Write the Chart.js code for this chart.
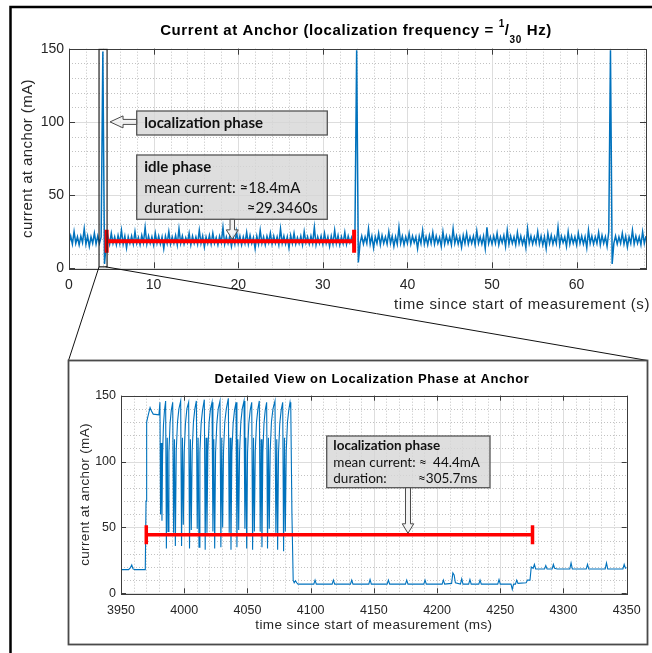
<!DOCTYPE html>
<html>
<head>
<meta charset="utf-8">
<script src="https://cdn.jsdelivr.net/npm/chart.js@4.4.0/dist/chart.umd.min.js"></script>
<style>
  html, body { margin: 0; padding: 0; background: #fff; }
  #wrap { position: relative; width: 652px; height: 653px; overflow: hidden; }
  canvas { position: absolute; left: 0; top: 0; }
</style>
</head>
<body>
<div id="wrap">
  <canvas id="overview" width="652" height="653"></canvas>
  <canvas id="detail" width="652" height="653"></canvas>
</div>
<script>
// ---- overview: current over the whole measurement (one sample every 0.2 s)
const overviewStepS = 0.2;
const overviewCurrentMA = [
  17,22,16.5,25,17,21.5,16,22,17.5,27,16.5,22,15,21.5,17,24,16.5,22,17,21.5,148,3,17,22,16.5,
  24,17,21.5,16,22.5,17,26,16.5,22,14,21.5,17,22,16.5,25,17,21,16,22.5,17.5,28,16.5,22,17,21.5,
  16,24,17,22,16.5,21.5,13.5,22,17,25,16.5,21.5,17,22.5,16,27,17,22,16.5,21,17.5,24,16,22,17,
  21.5,16.5,26,17,22,14.5,21.5,17,22.5,16.5,24,17,21,16,22,17.5,28,16.5,21.5,17,22,15,21.5,16.5,25,
  17,22,16,21.5,17,24.5,16.5,22.5,17,21,13.5,22,16.5,26,17,21.5,16,22,17.5,24,16.5,22,17,21.5,16,
  27,17,22,16.5,21.5,14,22.5,17,24,16.5,21,17,22,16,25,17.5,21.5,16.5,22,17,28,16,21.5,17,22,
  16.5,24,17,21.5,15,22,16.5,26,17,22.5,16,21.5,17,24.5,16.5,22,17.5,21,16,25,149,4,17,22,16.5,
  21.5,17,27,16.5,22,14,21.5,17,24,16,22.5,17,21.5,16.5,25,17,22,15,21.5,16.5,28,17,22,16,21.5,
  17,24,16.5,22,17.5,21.5,13.5,22,17,26,16.5,21.5,16,22.5,17,24.5,16.5,22,17,21,15,25,16.5,22,17,
  21.5,16,27,17,22,16.5,21.5,14.5,22.5,17,24,16.5,21.5,17,22,16,25.5,17,21.5,16.5,22,13.5,28,17,21.5,
  16.5,22,17,24,16,21.5,17.5,22.5,15,26,16.5,22,17,21.5,16,24.5,17,22,16.5,21,14,27,17,22,16.5,
  21.5,17,25,16.5,22,16,21.5,13.5,24,17,22.5,16.5,21.5,17,28,16,22,17.5,21.5,15,25,16.5,22,17,21.5,
  16,24,17,22,16.5,21.5,14,26,17,22,16.5,21.5,17,24.5,16,22.5,17,21.5,15,25,149,3,17,22,16.5,
  21.5,17,24,16.5,22,14.5,21.5,17,26,16.5,22,17,21.5,16,25,17,22
];
const overviewXTicks = [0, 10, 20, 30, 40, 50, 60];
const overviewYTicks = [0, 50, 100, 150];
const idleStartS = 4.45, idleEndS = 33.7, idleMeanMA = 18.4;
const zoomWindowS = [3.55, 4.5];
const zoomWindowMA = [1, 149.5];

// ---- detail: the localization phase, [time ms, current mA]
const detailBefore = [
  [3950,18],[3956,18],[3957.5,19.5],[3958.5,21.5],[3959.5,18.5],[3961,18],[3969.2,18],
  [3969.8,70],[3970.3,130],[3971.2,134],[3972.2,138],[3973,141],[3974,138.5],[3975.5,136],[3980,135.5]
];
const detailBurst = [
  [3980.8,145],[3981.3,60],[3981.8,114],[3982.4,55],[3982.9,106],[3983.6,128],[3984.4,139],
  [3985.3,146],[3985.9,34],[3986.6,118],[3987.2,47],[3987.9,107],[3988.8,129],[3989.8,139],
  [3990.9,145],[3991.6,46],[3992.3,117],[3993.0,36],[3993.7,108],[3994.7,130],[3995.8,140],
  [3997.2,146],[3997.9,36],[3998.6,118],[3999.3,52],[4000.0,107],[4001.0,129],[4002.1,140],
  [4003.5,145],[4004.2,34],[4004.9,117],[4005.6,48],[4006.3,108],[4007.3,130],[4008.4,140],
  [4009.6,146],[4010.3,49],[4011.0,118],[4011.7,35],[4012.4,107],[4013.4,129],[4014.5,139],
  [4015.9,147],[4016.6,33],[4017.3,118],[4018.0,46],[4018.7,108],[4019.7,130],[4020.8,140],
  [4022.0,145],[4022.7,47],[4023.4,117],[4024.1,34],[4024.8,107],[4025.8,129],[4026.9,140],
  [4028.3,146],[4029.0,35],[4029.7,118],[4030.4,50],[4031.1,108],[4032.1,130],[4033.3,140],
  [4034.9,148],[4035.6,46],[4036.3,118],[4037.0,33],[4037.7,107],[4038.7,129],[4039.8,139],
  [4041.0,145],[4041.7,35],[4042.4,117],[4043.1,48],[4043.8,108],[4044.8,130],[4045.9,140],
  [4047.3,146],[4048.0,49],[4048.7,118],[4049.4,34],[4050.1,107],[4051.1,129],[4052.2,139],
  [4053.4,145],[4054.1,33],[4054.8,118],[4055.5,47],[4056.2,108],[4057.2,130],[4058.3,140],
  [4059.4,146],[4060.1,47],[4060.8,117],[4061.5,35],[4062.2,107],[4063.1,129],[4064.1,139],
  [4065.2,145],[4065.9,34],[4066.6,118],[4067.3,49],[4068.0,108],[4069.0,130],[4070.2,140],
  [4071.8,146],[4072.5,46],[4073.2,117],[4073.9,33],[4074.6,107],[4075.6,129],[4076.7,139],
  [4077.9,145],[4078.6,32],[4079.3,118],[4080.0,47],[4080.7,108],[4081.7,130],[4082.7,139],
  [4083.7,145]
];
const detailAfter = [
  [4084.3,140],[4085.2,60],[4086.2,10],[4087,8],[4088,9.5],[4089,8],[4090,7],
  [4102.5,7],[4103.5,10],[4104.5,7],[4117,7],[4118,10],[4119,7],[4131.5,7],[4132.5,10],[4133.5,7],
  [4146,7],[4147,10.5],[4148,7],[4160.5,7],[4161.5,10],[4162.5,7],[4175,7],[4176,10],[4177,7],
  [4189.5,7],[4190.5,10],[4191.5,7],[4204,7],[4205,10],[4206,7],[4211.5,7.5],[4212.5,15.5],
  [4213.5,14],[4214.5,8],[4218.5,7],[4219.5,11],[4220.5,7],[4225,7],[4226,10.5],[4227,7],
  [4233,7],[4234,10],[4235,7],[4248,7],[4249,10.5],[4250,7],[4258.5,7],[4259.5,3],[4260.5,7],
  [4262,7],[4263,10],[4264,7.5],[4270.5,8],[4271.5,10],[4273.5,10],[4274.5,20],[4276,19],
  [4277,22],[4278,18.5],[4285,18.5],[4286,21],[4287,18.5],[4291,18.5],[4292,22],[4293,19],
  [4295,18.5],[4305,18.5],[4306,23],[4307,18.5],[4318,18.5],[4319,22],[4320,18.5],
  [4333,18.5],[4334,23],[4335,18.5],[4347,18.5],[4348,22],[4349,19],[4350,19.5]
];
const detailXTicks = [3950, 4000, 4050, 4100, 4150, 4200, 4250, 4300, 4350];
const detailYTicks = [0, 50, 100, 150];
const locStartMs = 3970, locEndMs = 4275.5, locMeanMA = 44.4;

const insetBox = { left: 68.5, top: 360.5, right: 647.5, bottom: 644.5 };
const AXIS_FONT = '"Liberation Sans", Arial, sans-serif';
const NOTE_FONT = 'Lato, "Open Sans", sans-serif';
const BLUE = '#0072bd';

function axesFrame(xMinor, yMinor, tickLen) {
  return {
    id: 'axesFrame',
    beforeDatasetsDraw(chart) {
      const { ctx, chartArea: a, scales: { x, y } } = chart;
      ctx.save();
      ctx.lineWidth = 1;
      ctx.strokeStyle = '#c2c2c2';
      ctx.setLineDash([1, 2]);
      ctx.beginPath();
      for (let k = Math.ceil(x.min / xMinor); k * xMinor <= x.max; k++) {
        const px = Math.round(x.getPixelForValue(k * xMinor)) + 0.5;
        ctx.moveTo(px, a.top); ctx.lineTo(px, a.bottom);
      }
      for (let k = Math.ceil(y.min / yMinor); k * yMinor <= y.max; k++) {
        const py = Math.round(y.getPixelForValue(k * yMinor)) + 0.5;
        ctx.moveTo(a.left, py); ctx.lineTo(a.right, py);
      }
      ctx.stroke();
      ctx.setLineDash([]);
      ctx.strokeStyle = '#dddddd';
      ctx.beginPath();
      x.ticks.forEach(t => {
        const px = Math.round(x.getPixelForValue(t.value)) + 0.5;
        ctx.moveTo(px, a.top); ctx.lineTo(px, a.bottom);
      });
      y.ticks.forEach(t => {
        const py = Math.round(y.getPixelForValue(t.value)) + 0.5;
        ctx.moveTo(a.left, py); ctx.lineTo(a.right, py);
      });
      ctx.stroke();
      ctx.restore();
    },
    afterDatasetsDraw(chart) {
      const { ctx, chartArea: a, scales: { x, y } } = chart;
      ctx.save();
      ctx.strokeStyle = '#3c3c3c';
      ctx.lineWidth = 1;
      ctx.beginPath();
      x.ticks.forEach(t => {
        const px = Math.round(x.getPixelForValue(t.value)) + 0.5;
        ctx.moveTo(px, a.bottom); ctx.lineTo(px, a.bottom - tickLen);
        ctx.moveTo(px, a.top); ctx.lineTo(px, a.top + tickLen);
      });
      y.ticks.forEach(t => {
        const py = Math.round(y.getPixelForValue(t.value)) + 0.5;
        ctx.moveTo(a.left, py); ctx.lineTo(a.left + tickLen, py);
        ctx.moveTo(a.right, py); ctx.lineTo(a.right - tickLen, py);
      });
      ctx.stroke();
      ctx.strokeRect(Math.round(a.left) + 0.5, Math.round(a.top) + 0.5,
        Math.round(a.right - a.left), Math.round(a.bottom - a.top));
      ctx.restore();
    }
  };
}

// axis titles drawn by hand so the letter spacing can follow the reference
function axisTitles(xText, xPos, xAlign, yText, yPos, size, xSpacing, ySpacing) {
  return {
    id: 'axisTitles',
    afterDraw(chart) {
      const { ctx } = chart;
      ctx.save();
      ctx.fillStyle = '#262626';
      ctx.font = size + 'px ' + AXIS_FONT;
      ctx.textBaseline = 'middle';
      ctx.letterSpacing = xSpacing + 'px';
      ctx.textAlign = xAlign;
      ctx.fillText(xText, xPos[0], xPos[1]);
      ctx.letterSpacing = ySpacing + 'px';
      ctx.translate(yPos[0], yPos[1]);
      ctx.rotate(-Math.PI / 2);
      ctx.textAlign = 'center';
      ctx.fillText(yText, 0, 0);
      ctx.restore();
    }
  };
}

function noteBox(ctx, l, t, r, b) {
  ctx.fillStyle = 'rgba(214,214,214,0.8)';
  ctx.fillRect(l, t, r - l, b - t);
  ctx.strokeStyle = '#555';
  ctx.lineWidth = 1.3;
  ctx.strokeRect(l, t, r - l, b - t);
}

function drawArrow(ctx, x0, y0, x1, y1, shaft, headW, headL) {
  const len = Math.hypot(x1 - x0, y1 - y0);
  const ux = (x1 - x0) / len, uy = (y1 - y0) / len, nx = -uy, ny = ux;
  const bx = x1 - ux * headL, by = y1 - uy * headL;
  const pts = [
    [x0 + nx * shaft / 2, y0 + ny * shaft / 2], [bx + nx * shaft / 2, by + ny * shaft / 2],
    [bx + nx * headW / 2, by + ny * headW / 2], [x1, y1],
    [bx - nx * headW / 2, by - ny * headW / 2], [bx - nx * shaft / 2, by - ny * shaft / 2],
    [x0 - nx * shaft / 2, y0 - ny * shaft / 2]
  ];
  ctx.beginPath();
  pts.forEach((p, i) => i ? ctx.lineTo(p[0], p[1]) : ctx.moveTo(p[0], p[1]));
  ctx.closePath();
  ctx.fillStyle = 'rgba(240,240,240,0.7)';
  ctx.fill();
  ctx.strokeStyle = '#4a4a4a';
  ctx.lineWidth = 1;
  ctx.stroke();
}

function scaleOpts(ticks, min, max, fontSize, pad, fit, isX) {
  return {
    type: 'linear', min: min, max: max,
    grid: { display: false, drawTicks: false, tickLength: 0 }, border: { display: false },
    afterBuildTicks: s => { s.ticks = ticks.map(v => ({ value: v })); },
    afterFit: s => {
      if (isX) { s.height = fit; s.paddingLeft = 0; s.paddingRight = 0; }
      else { s.width = fit; s.paddingTop = 0; s.paddingBottom = 0; }
    },
    ticks: { color: '#262626', padding: pad, maxRotation: 0, autoSkip: false,
      callback: v => String(v),
      font: { family: AXIS_FONT, size: fontSize } }
  };
}

// ---------------- overview chart
const overviewPoints = overviewCurrentMA.map((v, i) => ({ x: i * overviewStepS, y: v }));

const overviewNotes = {
  id: 'overviewNotes',
  afterDatasetsDraw(chart) {
    const { ctx, scales: { x, y } } = chart;
    ctx.save();
    const l = x.getPixelForValue(zoomWindowS[0]), r = x.getPixelForValue(zoomWindowS[1]);
    const t = y.getPixelForValue(zoomWindowMA[1]), b = y.getPixelForValue(zoomWindowMA[0]);
    ctx.strokeStyle = '#222';
    ctx.lineWidth = 1.2;
    ctx.strokeRect(l, t, r - l, b - t);

    // localization phase label
    noteBox(ctx, 136.7, 111, 327.3, 135);
    drawArrow(ctx, 136.7, y.getPixelForValue(100), x.getPixelForValue(4.85), y.getPixelForValue(100), 5, 12, 13);
    ctx.fillStyle = '#111';
    ctx.textBaseline = 'alphabetic';
    ctx.font = 'bold 15px ' + NOTE_FONT;
    ctx.fillText('localization phase', 144.3, 128.3);

    // idle phase label
    noteBox(ctx, 136.7, 155, 327.3, 219.3);
    const ax = x.getPixelForValue(19.3);
    drawArrow(ctx, ax, 219.3, ax, y.getPixelForValue(idleMeanMA) - 2, 4.5, 12, 9.5);
    ctx.fillStyle = '#111';
    ctx.font = 'bold 15px ' + NOTE_FONT;
    ctx.fillText('idle phase', 144.3, 172.3);
    ctx.font = '15px ' + NOTE_FONT;
    ctx.fillText('mean current: \u224818.4mA', 144.3, 193.3);
    ctx.fillText('duration:', 144.3, 213.3);
    ctx.fillText('\u224829.3460s', 246.7, 213.3);
    ctx.restore();
  },
  afterDraw(chart) {
    const { ctx, scales: { x, y } } = chart;
    ctx.save();
    // zoom connector lines
    const l = x.getPixelForValue(zoomWindowS[0]), r = x.getPixelForValue(zoomWindowS[1]);
    const b = y.getPixelForValue(zoomWindowMA[0]);
    ctx.strokeStyle = '#111';
    ctx.lineWidth = 1;
    ctx.beginPath();
    ctx.moveTo(l, b); ctx.lineTo(insetBox.left, insetBox.top);
    ctx.moveTo(r - 1.5, b); ctx.lineTo(insetBox.right, insetBox.top);
    ctx.stroke();

    // figure frame
    ctx.lineWidth = 2.5;
    ctx.strokeStyle = '#000';
    ctx.beginPath();
    ctx.moveTo(10.5, 653); ctx.lineTo(10.5, 7); ctx.lineTo(652, 7);
    ctx.stroke();

    // title with 1/30 fraction
    const big = 'bold 15px ' + AXIS_FONT, small = 'bold 10px ' + AXIS_FONT;
    const parts = [
      ['Current at Anchor (localization frequency = ', big, 0],
      ['1', small, -8], ['/', big, 0], ['30', small, 8], [' Hz)', big, 0]
    ];
    ctx.letterSpacing = '0.6px';
    let w = 0;
    parts.forEach(p => { ctx.font = p[1]; w += ctx.measureText(p[0]).width; });
    let cx = 356 - w / 2;
    ctx.fillStyle = '#000';
    ctx.textBaseline = 'alphabetic';
    parts.forEach(p => {
      ctx.font = p[1];
      ctx.fillText(p[0], cx, 34.5 + p[2]);
      cx += ctx.measureText(p[0]).width;
    });
    ctx.restore();
  }
};

new Chart(document.getElementById('overview'), {
  type: 'line',
  data: {
    datasets: [
      {
        label: 'idle phase',
        data: [{ x: idleStartS, y: idleMeanMA }, { x: idleEndS, y: idleMeanMA }],
        borderColor: '#ff0000', borderWidth: 4,
        pointStyle: 'line', pointRotation: 90, pointRadius: 11.5,
        pointBorderWidth: 4, pointBorderColor: '#ff0000', order: 0
      },
      {
        label: 'current at anchor',
        data: overviewPoints,
        borderColor: BLUE, borderWidth: 1.5, pointRadius: 0, tension: 0, order: 1
      }
    ]
  },
  options: {
    responsive: false, animation: false,
    layout: { autoPadding: false, padding: { left: 15.3, right: 6, top: 48.7, bottom: 335 } },
    plugins: { legend: { display: false }, tooltip: { enabled: false } },
    scales: {
      x: scaleOpts(overviewXTicks, 0, 68.2, 14, 8, 49.7, true),
      y: scaleOpts(overviewYTicks, 0, 150, 14, 5, 53.7, false)
    }
  },
  plugins: [
    axesFrame(2, 10, 6),
    axisTitles('time since start of measurement (s)', [650, 305], 'right',
      'current at anchor (mA)', [28.3, 158.5], 15, 0.6, 0.4),
    overviewNotes
  ]
});

// ---------------- detail chart
const detailPoints = detailBefore.concat(detailBurst, detailAfter).map(p => ({ x: p[0], y: p[1] }));

const detailNotes = {
  id: 'detailNotes',
  beforeDraw(chart) {
    const { ctx } = chart;
    ctx.save();
    ctx.fillStyle = '#fff';
    ctx.fillRect(insetBox.left, insetBox.top, insetBox.right - insetBox.left, insetBox.bottom - insetBox.top);
    ctx.strokeStyle = '#4a4a4a';
    ctx.lineWidth = 1.8;
    ctx.strokeRect(insetBox.left, insetBox.top, insetBox.right - insetBox.left, insetBox.bottom - insetBox.top);
    ctx.fillStyle = '#000';
    ctx.font = 'bold 13px ' + AXIS_FONT;
    ctx.letterSpacing = '0.6px';
    ctx.textAlign = 'center';
    ctx.fillText('Detailed View on Localization Phase at Anchor', 372, 383.3);
    ctx.restore();
  },
  afterDatasetsDraw(chart) {
    const { ctx, scales: { x, y } } = chart;
    ctx.save();
    noteBox(ctx, 326.7, 436, 490, 487.7);
    const ax = x.getPixelForValue(4177);
    drawArrow(ctx, ax, 487.7, ax, y.getPixelForValue(locMeanMA) - 1.5, 5, 11.5, 9.5);
    ctx.fillStyle = '#111';
    ctx.font = 'bold 13.5px ' + NOTE_FONT;
    ctx.fillText('localization phase', 333.3, 450);
    ctx.font = '13.5px ' + NOTE_FONT;
    ctx.fillText('mean current: \u2248', 333.3, 466.7);
    ctx.fillText('duration:', 333.3, 483.3);
    ctx.textAlign = 'right';
    ctx.fillText('44.4mA', 480, 466.7);
    ctx.fillText('\u2248305.7ms', 477.3, 483.3);
    ctx.restore();
  }
};

new Chart(document.getElementById('detail'), {
  type: 'line',
  data: {
    datasets: [
      {
        label: 'localization phase',
        data: [{ x: locStartMs, y: locMeanMA }, { x: locEndMs, y: locMeanMA }],
        borderColor: '#ff0000', borderWidth: 3.5,
        pointStyle: 'line', pointRotation: 90, pointRadius: 9.5,
        pointBorderWidth: 3.5, pointBorderColor: '#ff0000', order: 0
      },
      {
        label: 'current at anchor',
        data: detailPoints,
        borderColor: BLUE, borderWidth: 1.1, pointRadius: 0, tension: 0, order: 1
      }
    ]
  },
  options: {
    responsive: false, animation: false,
    layout: { autoPadding: false, padding: { left: 72.9, right: 25.3, top: 395.7, bottom: 15.2 } },
    plugins: { legend: { display: false }, tooltip: { enabled: false } },
    scales: {
      x: scaleOpts(detailXTicks, 3950, 4350, 12.5, 9.5, 44.5, true),
      y: scaleOpts(detailYTicks, 0, 150, 12.5, 5, 48.1, false)
    }
  },
  plugins: [
    axesFrame(10, 10, 5),
    axisTitles('time since start of measurement (ms)', [373.9, 625.7], 'center',
      'current at anchor (mA)', [85, 494.5], 13.5, 0.4, 0.35),
    detailNotes
  ]
});
</script>
</body>
</html>
